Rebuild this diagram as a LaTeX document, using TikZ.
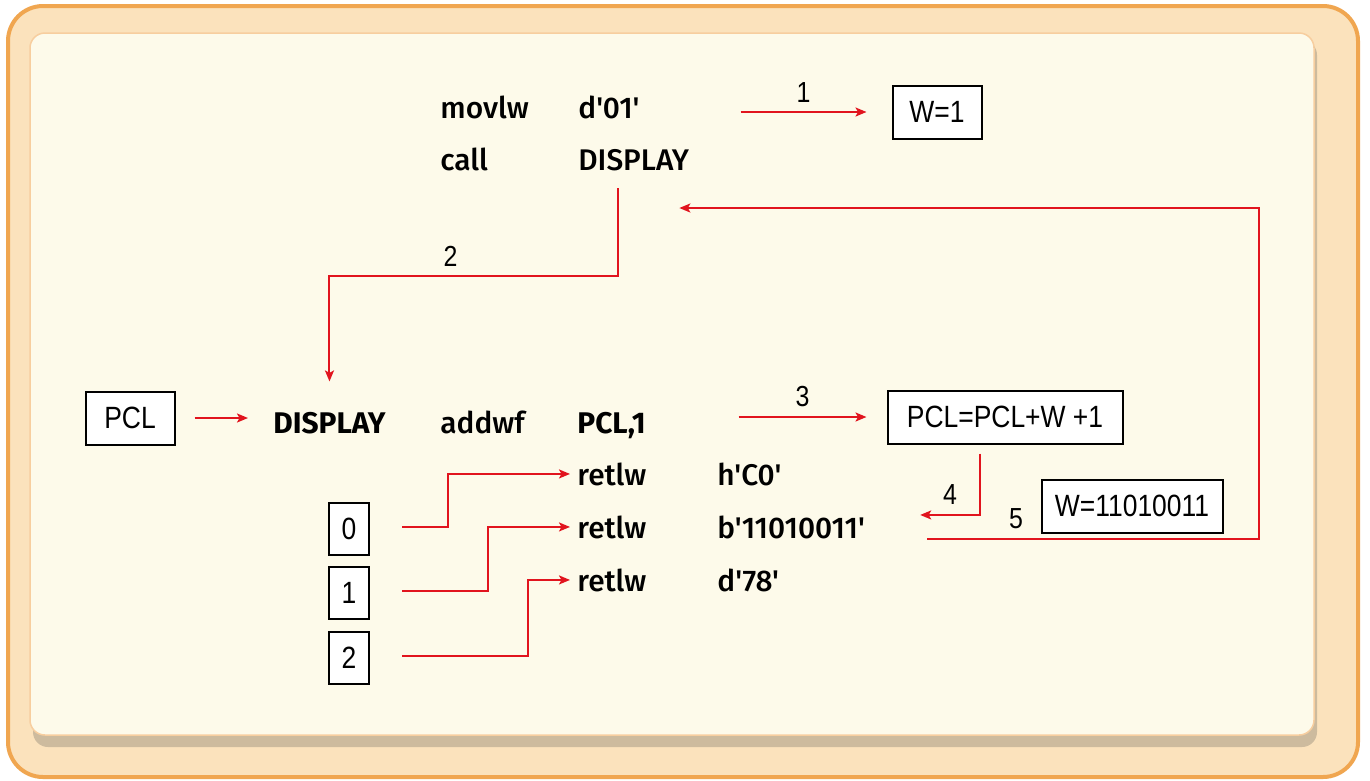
\documentclass[tikz,border=0pt]{standalone}
\usepackage{fontspec}
\setmainfont{Fira Sans}[Ligatures=TeXOff, UprightFont=* Medium, BoldFont=* Bold]
\newfontfamily\boxfont{Liberation Sans}[FakeStretch=0.86]
\usepackage{tikz}
\usetikzlibrary{shapes,arrows.meta,calc,positioning}
\definecolor{frameorange}{HTML}{F0A650}
\definecolor{framepeach}{HTML}{FBE2BC}
\definecolor{panelcream}{HTML}{FDFAEA}
\definecolor{panelshadow}{HTML}{CDBB9E}
\definecolor{arrowred}{HTML}{E1141E}

\begin{document}
\begin{tikzpicture}[
    x=0.2mm, y=-0.2mm,
    asm/.style={anchor=base west, inner sep=0pt, font=\fontsize{17}{20}\selectfont},
    asmbold/.style={asm, font=\fontsize{17}{20}\selectfont\bfseries},
    reg/.style={
      rectangle,
      draw=black,
      line width=0.4mm,
      fill=white,
      minimum height=10.6mm,
      inner sep=1pt,
      font=\boxfont\fontsize{17.5}{20}\selectfont
    },
    idx/.style={reg, minimum width=8mm, minimum height=10.4mm},
    stepnum/.style={inner sep=0pt, above=1.8mm, font=\boxfont\fontsize{16.5}{18}\selectfont},
    line/.style={draw=arrowred, -{Stealth[length=2.2mm,width=1.8mm,inset=0.5mm]}, line width=0.4mm},
]
    \useasboundingbox (0,0) rectangle (1370,780);
    \fill [white] (0,0) rectangle (1370,780);
    \draw [frameorange, fill=framepeach, line width=0.8mm, rounded corners=7mm] (8,6) rectangle (1358,777);
    \fill [panelshadow, rounded corners=3mm] (33,40) rectangle (1317,747);
    \draw [frameorange!55, fill=panelcream, line width=0.3mm, rounded corners=3mm] (30,33) rectangle (1314,735);

    % main program
    \node [asm] (movlw) at (440,118) {movlw};
    \node [asm] (d01) at (578,118) {d'01'};
    \node [asm] (call) at (440,170) {call};
    \node [asm] (calldisp) at (578,170) {DISPLAY};
    \node [reg, minimum width=17.8mm] (w1) at (937,112) {W=1};

    % subroutine
    \node [reg, minimum width=17.8mm] (pcl) at (130,418) {PCL};
    \node [asmbold] (disp) at (273,433) {DISPLAY};
    \node [asm] (addwf) at (440,433) {addwf};
    \node [asmbold] (pcl1) at (577,433) {PCL,1};
    \node [reg, minimum width=47mm] (pclsum) at (1005,417) {PCL=PCL+W +1};
    \node [reg, minimum width=36.2mm] (wret) at (1132,506) {W=11010011};

    \foreach \val [count=\i from 0] in {h'C0', b'11010011', d'78'} {
      \node [asm] (ret\i) at (577,{485+53*\i}) {retlw};
      \node [asm] (val\i) at (717,{485+53*\i}) {\val};
    }
    \foreach \n/\yy in {0/529, 1/593, 2/658}
      \node [idx] (idx\n) at (349,\yy) {\n};

    \path [line] ([xshift=-30.2mm]w1.west) -- node [stepnum] {1} ([xshift=-5mm]w1.west);
    \path [line] ($(calldisp.base west)+(40,18)$) -- ++(0,88) -| node [stepnum, pos=0.29] {2} ([yshift=6mm]disp.north);
    \path [line] ([xshift=3.8mm]pcl.east) -- ($(disp.west |- pcl.east)+(-25,0)$);
    \path [line] ([xshift=-29.6mm]pclsum.west) -- node [stepnum] {3} ([xshift=-4mm]pclsum.west);
    \path [line] ($(pclsum.south)+(-25,9)$) |- node [stepnum, pos=0.75] {4} ($(val1.east)+(55,-12)$);

    \coordinate (back) at ($(wret.east)+(35,0)$);
    \coordinate (callret) at ($(calldisp.base east)+(-10,38)$);
    \path [line] ($(val1.east)+(62,12)$) -| node [stepnum, pos=0.134] {5} (back |- callret) -- (callret);

    \foreach \n in {0,1,2}
      \path [line] ($(idx\n.east)+(32,-2)$) -- ++({46+40*\n},0) |- ([xshift=-1.4mm]ret\n.west);
\end{tikzpicture}
\end{document}
